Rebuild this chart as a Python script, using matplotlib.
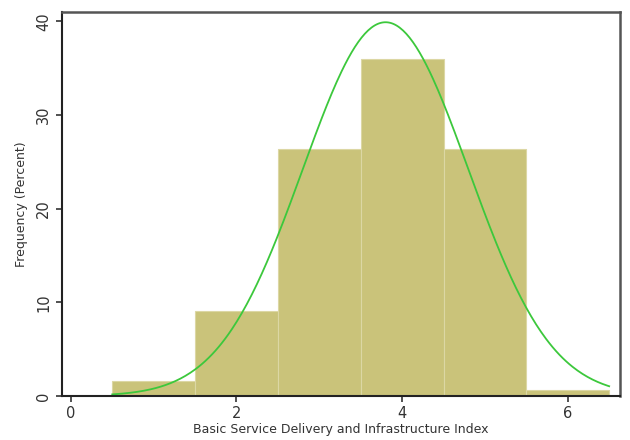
import numpy as np
import matplotlib.pyplot as plt

# Histogram bins (percent of observations)
bin_left = [0.5, 1.5, 2.5, 3.5, 4.5, 5.5]
bin_width = 1.0
percent = [1.6, 9.1, 26.4, 36.0, 26.4, 0.65]

# Overlaid normal density (scaled to percent per bin)
curve_mean = 3.8
curve_sd = 1.0
curve_range = (0.5, 6.5)

fig = plt.figure(figsize=(6.3, 4.4), dpi=100)
ax = fig.add_axes([0.098, 0.1, 0.886, 0.873])

ax.bar(bin_left, percent, width=bin_width, align='edge',
       color='#CAC37A', edgecolor='#DCD7A4', linewidth=0.8)

xs = np.linspace(curve_range[0], curve_range[1], 300)
ys = 100 * bin_width * np.exp(-0.5 * ((xs - curve_mean) / curve_sd) ** 2) / (curve_sd * np.sqrt(2 * np.pi))
ax.plot(xs, ys, color='#3CC83C', linewidth=1.3)

ax.set_xlim(-0.11, 6.63)
ax.set_ylim(0, 41)
ax.set_xticks([0, 2, 4, 6])
ax.set_yticks([0, 10, 20, 30, 40])
ax.tick_params(axis='both', labelsize=10.5, colors='#333333', length=4, width=1.2)
for lbl in ax.get_yticklabels():
    lbl.set_rotation(90)
    lbl.set_va('center')

ax.set_xlabel('Basic Service Delivery and Infrastructure Index', fontsize=9, color='#333333', labelpad=1)
ax.set_ylabel('Frequency (Percent)', fontsize=9, color='#333333', labelpad=6)

for side in ['left', 'bottom']:
    ax.spines[side].set_color('#222222')
    ax.spines[side].set_linewidth(1.5)
for side in ['top', 'right']:
    ax.spines[side].set_color('#555555')
    ax.spines[side].set_linewidth(1.8)

plt.savefig('out.png', dpi=100)
plt.close()
